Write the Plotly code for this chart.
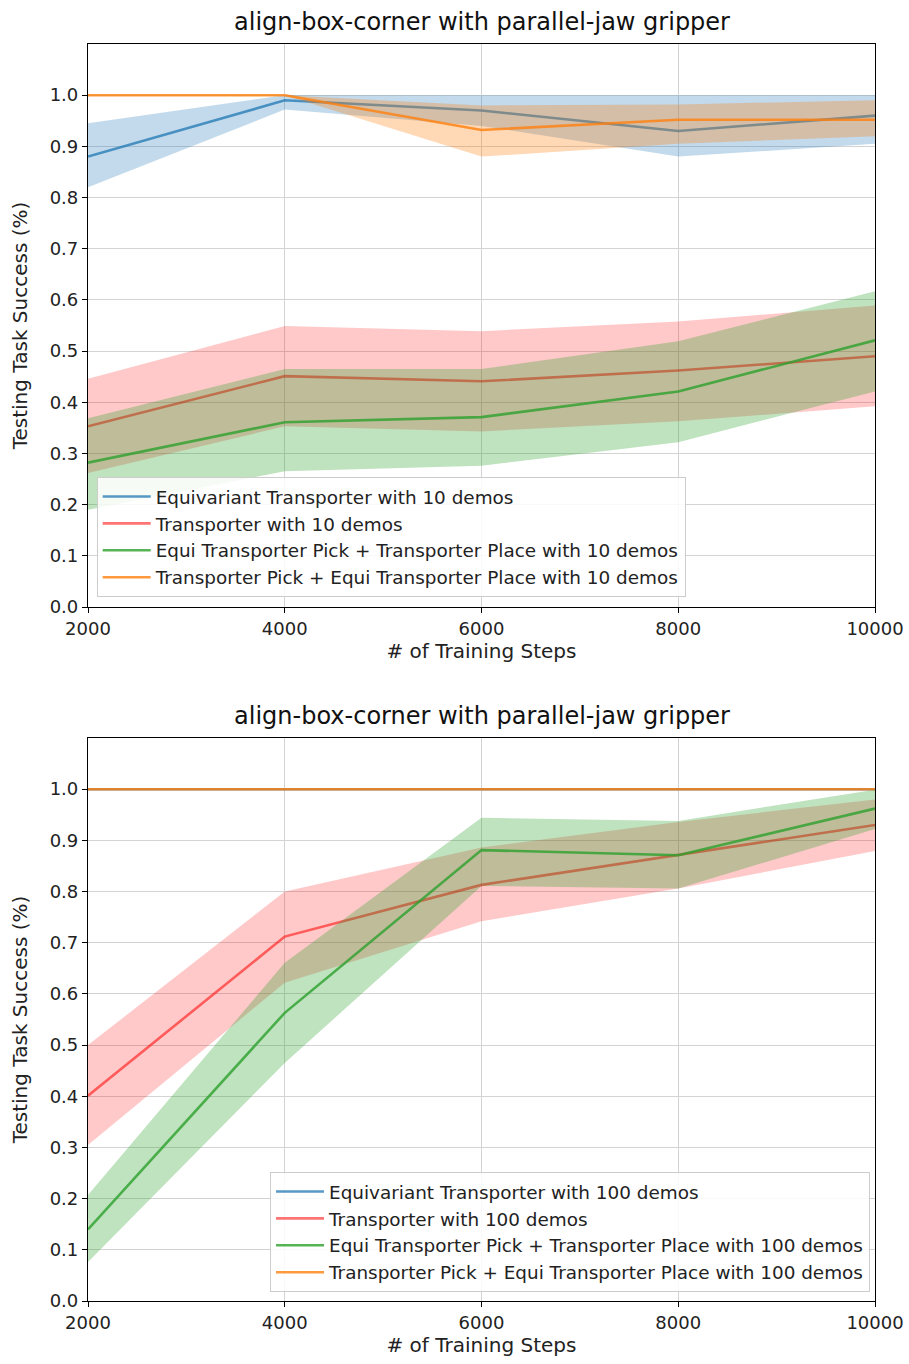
import plotly.graph_objects as go

steps = [2000, 4000, 6000, 8000, 10000]

# Top panel (10 demos)
t_blue = [0.88, 0.99, 0.97, 0.93, 0.96]
t_blue_lo = [0.82, 0.972, 0.94, 0.88, 0.905]
t_blue_hi = [0.945, 1.0, 1.0, 1.0, 1.0]
t_red = [0.353, 0.451, 0.441, 0.462, 0.49]
t_red_lo = [0.262, 0.353, 0.343, 0.363, 0.392]
t_red_hi = [0.446, 0.549, 0.539, 0.558, 0.589]
t_green = [0.282, 0.361, 0.371, 0.421, 0.521]
t_green_lo = [0.19, 0.265, 0.276, 0.322, 0.421]
t_green_hi = [0.369, 0.465, 0.465, 0.519, 0.617]
t_orange = [1.0, 1.0, 0.932, 0.952, 0.952]
t_orange_lo = [1.0, 1.0, 0.88, 0.905, 0.92]
t_orange_hi = [1.0, 1.0, 0.98, 0.982, 0.99]

# Bottom panel (100 demos)
b_blue = [1.0, 1.0, 1.0, 1.0, 1.0]
b_blue_lo = [1.0, 1.0, 1.0, 1.0, 1.0]
b_blue_hi = [1.0, 1.0, 1.0, 1.0, 1.0]
b_red = [0.401, 0.712, 0.813, 0.871, 0.93]
b_red_lo = [0.305, 0.622, 0.742, 0.806, 0.879]
b_red_hi = [0.5, 0.8, 0.886, 0.936, 0.98]
b_green = [0.14, 0.563, 0.881, 0.871, 0.962]
b_green_lo = [0.076, 0.465, 0.811, 0.806, 0.922]
b_green_hi = [0.207, 0.661, 0.944, 0.938, 0.999]
b_orange = [1.0, 1.0, 1.0, 1.0, 1.0]
b_orange_lo = [1.0, 1.0, 1.0, 1.0, 1.0]
b_orange_hi = [1.0, 1.0, 1.0, 1.0, 1.0]

labels_top = [
    "Equivariant Transporter with 10 demos",
    "Transporter with 10 demos",
    "Equi Transporter Pick + Transporter Place with 10 demos",
    "Transporter Pick + Equi Transporter Place with 10 demos",
]
labels_bot = [
    "Equivariant Transporter with 100 demos",
    "Transporter with 100 demos",
    "Equi Transporter Pick + Transporter Place with 100 demos",
    "Transporter Pick + Equi Transporter Place with 100 demos",
]
title_text = "align-box-corner with parallel-jaw gripper"
xticks = [2000, 4000, 6000, 8000, 10000]
xticktext = ["2000", "4000", "6000", "8000", "10000"]
yticks = [0.0, 0.1, 0.2, 0.3, 0.4, 0.5, 0.6, 0.7, 0.8, 0.9, 1.0]

line_cols = ["rgba(31,119,180,0.75)", "rgba(255,0,0,0.55)",
             "rgba(44,160,44,0.8)", "rgba(255,127,14,0.8)"]
band_cols = ["rgba(31,119,180,0.27)", "rgba(255,0,0,0.21)",
             "rgba(44,160,44,0.3)", "rgba(255,127,14,0.3)"]

fig = go.Figure()

panels = [
    ("x", "y", "legend",
     [(t_blue, t_blue_lo, t_blue_hi), (t_red, t_red_lo, t_red_hi),
      (t_green, t_green_lo, t_green_hi), (t_orange, t_orange_lo, t_orange_hi)],
     labels_top),
    ("x2", "y2", "legend2",
     [(b_blue, b_blue_lo, b_blue_hi), (b_red, b_red_lo, b_red_hi),
      (b_green, b_green_lo, b_green_hi), (b_orange, b_orange_lo, b_orange_hi)],
     labels_bot),
]

for xa, ya, lg, series, labels in panels:
    for i, (m, lo, hi) in enumerate(series):
        fig.add_trace(go.Scatter(
            x=steps + steps[::-1], y=hi + lo[::-1], fill="toself",
            fillcolor=band_cols[i], line=dict(width=0), mode="lines",
            hoverinfo="skip", showlegend=False, xaxis=xa, yaxis=ya))
        fig.add_trace(go.Scatter(
            x=steps, y=m, mode="lines", name=labels[i],
            line=dict(color=line_cols[i], width=2.6),
            xaxis=xa, yaxis=ya, legend=lg))

FONT = "DejaVu Sans"
axis_common = dict(
    showline=True, linecolor="black", linewidth=1.2, mirror=True,
    ticks="outside", ticklen=5, tickcolor="black",
    showgrid=True, gridcolor="#d3d3d3", gridwidth=1, zeroline=False,
    automargin=False,
)
tickfont = dict(family=FONT, size=18, color="#222")
xtitlefont = dict(family=FONT, size=20, color="#222")
ytitlefont = dict(family=FONT, size=20, color="#222")
legfont = dict(family=FONT, size=18.4, color="#222")

def xaxis(anchor):
    return dict(domain=[0, 1], anchor=anchor, range=[2000, 10000],
                tickvals=xticks, ticktext=xticktext, tickfont=tickfont,
                title=dict(text="# of Training Steps", font=xtitlefont, standoff=4),
                **axis_common)

def yaxis(anchor, dom):
    return dict(domain=dom, anchor=anchor, range=[0, 1.1], tickvals=yticks,
                tickformat=".1f", tickfont=tickfont,
                title=dict(text="Testing Task Success (%)", font=ytitlefont, standoff=16),
                **axis_common)

legend_common = dict(bgcolor="rgba(255,255,255,0.85)", bordercolor="#cccccc",
                     borderwidth=1, font=legfont, itemwidth=48)

# plot-area layout in page pixels: top panel 44..607, bottom panel 738..1301
W, H = 909, 1364
pb = H - 1301
ph = 1301 - 44
top_lo = (1301 - 607) / ph
bot_hi = (1301 - 738) / ph

fig.update_layout(
    width=W, height=H,
    margin=dict(l=88, r=W - 875, t=44, b=pb, autoexpand=False),
    paper_bgcolor="white", plot_bgcolor="white",
    xaxis=xaxis("y"), yaxis=yaxis("x", [top_lo, 1.0]),
    xaxis2=xaxis("y2"), yaxis2=yaxis("x2", [0, bot_hi]),
    legend=dict(x=0.011, y=(1301 - 597) / ph, xanchor="left", yanchor="bottom", **legend_common),
    legend2=dict(x=0.9937, y=(1301 - 1292) / ph, xanchor="right", yanchor="bottom", **legend_common),
    annotations=[
        dict(text=title_text, xref="paper", yref="paper", x=0.5, y=1.0, yshift=6,
             xanchor="center", yanchor="bottom", showarrow=False,
             font=dict(family=FONT, size=24, color="#111")),
        dict(text=title_text, xref="paper", yref="paper", x=0.5, y=bot_hi, yshift=6,
             xanchor="center", yanchor="bottom", showarrow=False,
             font=dict(family=FONT, size=24, color="#111")),
    ],
)

fig.write_html("out.html", config={"displayModeBar": False},
               post_script="document.body.style.margin='0';document.body.style.overflow='hidden';")
